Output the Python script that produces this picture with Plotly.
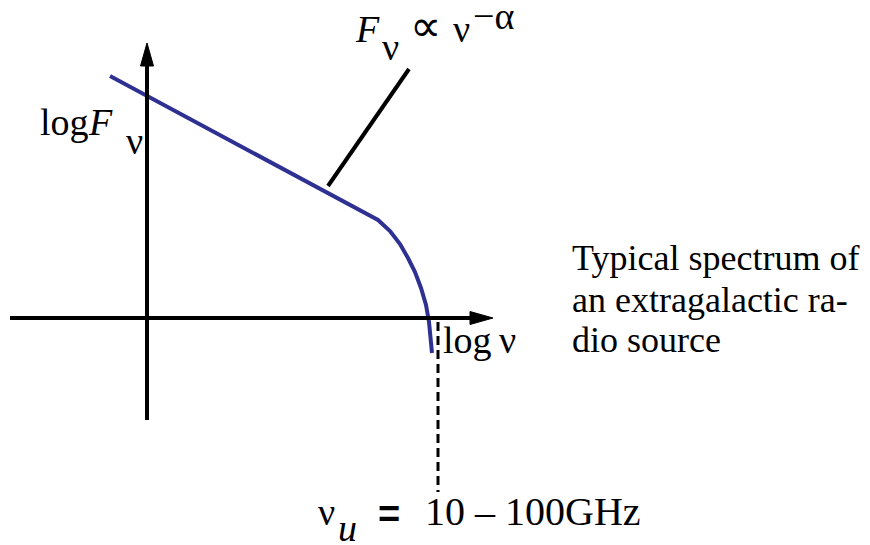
import plotly.graph_objects as go

# Schematic radio spectrum (log F_nu versus log nu), origin where the axes cross
log_nu = [-0.37, 2.31, 2.43, 2.53, 2.61, 2.68, 2.74, 2.79, 2.82, 2.84, 2.85]
log_F = [2.42, 0.98, 0.87, 0.74, 0.60, 0.46, 0.30, 0.13, -0.04, -0.20, -0.35]

# Extent of the two drawn axes
x_axis_span = [-1.37, 3.46]
y_axis_span = [-1.02, 2.75]

# Cut-off frequency marker (dashed drop line)
nu_cut = 2.91
cut_span = [-0.04, -1.74]

# Leader line from the power-law part of the curve to its label
leader_x = [1.81, 2.62]
leader_y = [1.32, 2.49]

W, H = 870, 545
X0, Y0, SCALE = 147, 318, 100.0   # page position of the origin, pixels per unit


def dx(px):
    return (px - X0) / SCALE


def dy(py):
    return (Y0 - py) / SCALE


FONT = "Liberation Serif"
BLUE = "#2e3192"

fig = go.Figure()

# Spectrum curve
fig.add_trace(go.Scatter(x=log_nu, y=log_F, mode="lines",
                         line=dict(color=BLUE, width=4), hoverinfo="skip"))

# Leader line
fig.add_trace(go.Scatter(x=leader_x, y=leader_y, mode="lines",
                         line=dict(color="black", width=4), hoverinfo="skip"))

# Dashed cut-off line
fig.add_trace(go.Scatter(x=[nu_cut, nu_cut], y=cut_span, mode="lines",
                         line=dict(color="black", width=3, dash="9px,5px"),
                         hoverinfo="skip"))

shapes = []
head_len, head_half = 0.23, 0.065
# horizontal axis with arrowhead
shapes.append(dict(type="line", x0=x_axis_span[0], x1=x_axis_span[1] - head_len + 0.02,
                   y0=0, y1=0, line=dict(color="black", width=4)))
tip = x_axis_span[1]
shapes.append(dict(type="path",
                   path=f"M {tip} 0 L {tip - head_len} {head_half} L {tip - head_len} {-head_half} Z",
                   fillcolor="black", line=dict(color="black", width=1)))
# vertical axis with arrowhead
shapes.append(dict(type="line", x0=0, x1=0, y0=y_axis_span[0],
                   y1=y_axis_span[1] - head_len + 0.02, line=dict(color="black", width=4)))
tip = y_axis_span[1]
shapes.append(dict(type="path",
                   path=f"M 0 {tip} L {head_half} {tip - head_len} L {-head_half} {tip - head_len} Z",
                   fillcolor="black", line=dict(color="black", width=1)))

annotations = []


def label(text, cx, base, size=38, anchor="center", family=FONT):
    # place text by its baseline (page pixels); the line box is centred
    # about 0.34 em above the baseline for these fonts
    annotations.append(dict(
        x=dx(cx), y=dy(base - 0.3375 * size), xref="x", yref="y",
        text=text, showarrow=False, xanchor=anchor, yanchor="middle",
        borderpad=0, borderwidth=0,
        font=dict(family=family, size=size, color="black")))


# y-axis label
label("log", 64, 135)
label("<i>F</i>", 100, 135)
label("ν", 134, 154)

# x-axis label
label("log", 467, 353)
label("ν", 507, 353)

# power-law label
label("<i>F</i>", 367, 42)
label("ν", 390, 60)
label("∝", 425, 41, size=44)
label("ν", 461, 42)
label("−α", 493, 29)

# cut-off frequency label
label("ν", 326, 525)
label("<i>u</i>", 347, 541)
label("<b>=</b>", 389, 527, size=38, family="Liberation Sans")
label("10 – 100GHz", 533, 525, size=40)

# caption
label("Typical spectrum of", 572, 270, size=36, anchor="left")
label("an extragalactic ra-", 572, 312, size=36, anchor="left")
label("dio source", 572, 352, size=36, anchor="left")

fig.update_layout(
    width=W, height=H,
    margin=dict(l=0, r=0, t=0, b=0),
    paper_bgcolor="white", plot_bgcolor="white",
    showlegend=False,
    shapes=shapes, annotations=annotations,
    xaxis=dict(range=[dx(0), dx(W)], visible=False, fixedrange=True),
    yaxis=dict(range=[dy(H), dy(0)], visible=False, fixedrange=True),
)

fig.write_html("out.html")
